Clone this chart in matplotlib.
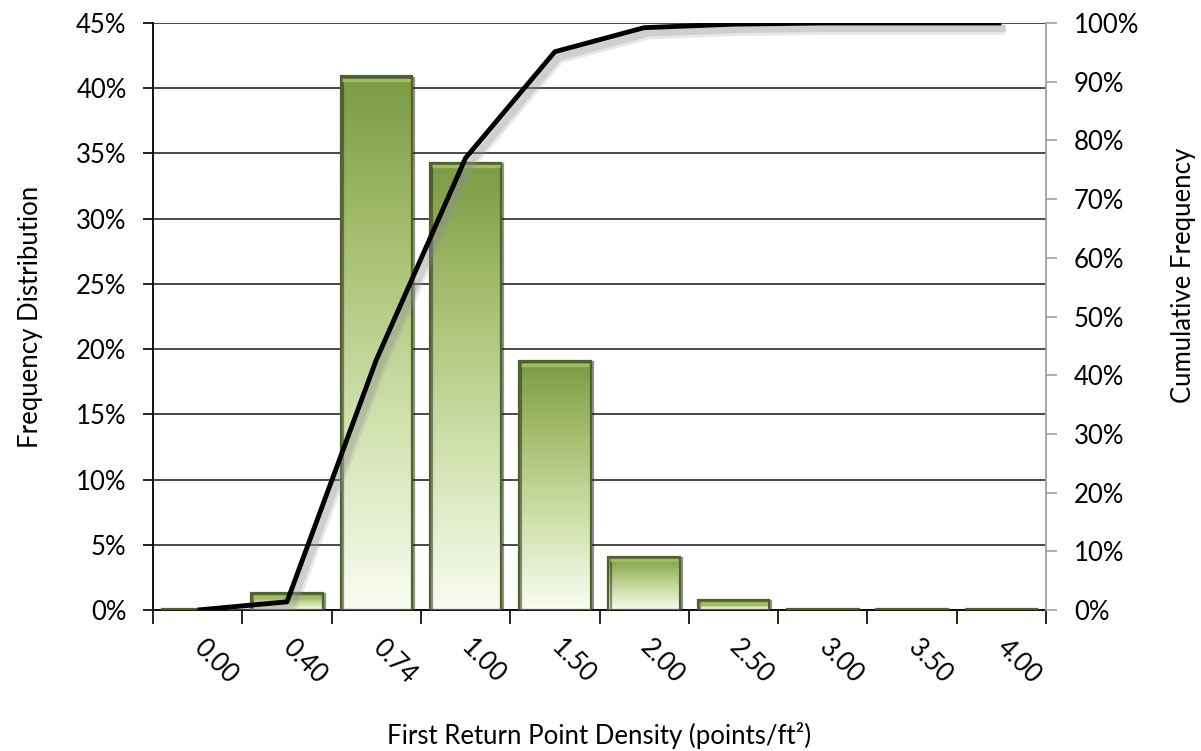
import matplotlib
matplotlib.use("Agg")
import matplotlib.pyplot as plt
import numpy as np
from matplotlib.colors import LinearSegmentedColormap
from matplotlib.ticker import FuncFormatter, FixedLocator
import matplotlib.patheffects as pe

plt.rcParams['font.family'] = ['Lato', 'DejaVu Sans']

categories = ["0.00", "0.40", "0.74", "1.00", "1.50", "2.00", "2.50", "3.00", "3.50", "4.00"]
freq = [0.1, 1.3, 40.9, 34.3, 19.1, 4.1, 0.8, 0.1, 0.1, 0.1]
cumulative = [0.0, 1.4, 42.6, 77.0, 95.1, 99.2, 99.8, 100.0, 100.0, 100.0]

FS = 18.5

fig = plt.figure(figsize=(12.01, 7.51), dpi=100)
ax = fig.add_axes([0.1274, 0.1877, 0.871 - 0.1274, 0.9694 - 0.1877])
x = np.arange(len(categories))

ax.set_xlim(-0.5, len(categories) - 0.5)
ax.set_ylim(0, 45)

# gridlines
ax.set_yticks(np.arange(0, 46, 5))
ax.yaxis.grid(True, color='#3a3a3a', linewidth=1.3)
ax.set_axisbelow(True)

bars = ax.bar(x, freq, width=0.8, facecolor='none', edgecolor='#4f6328',
              linewidth=1.6, zorder=3,
              path_effects=[pe.SimpleLineShadow(offset=(1.5, -1), shadow_color='#222222', alpha=0.5), pe.Normal()])

cmap = LinearSegmentedColormap.from_list('g', ['#f9fcf1', '#d3e3b2', '#a9c274', '#7b9a42'])
grad = np.linspace(0, 1, 256).reshape(-1, 1)
for b in bars:
    x0, y0 = b.get_x(), b.get_y()
    w, h = b.get_width(), b.get_height()
    im = ax.imshow(grad, extent=[x0, x0 + w, y0, y0 + h], origin='lower',
                   cmap=cmap, aspect='auto', zorder=2.5, interpolation='bilinear')
    im.set_clip_path(b)
    # top bevel highlight
    if h > 0.5:
        ax.plot([x0 + 0.02, x0 + w - 0.02], [y0 + h - 0.3, y0 + h - 0.3],
                color='#9fbb63', linewidth=2.5, zorder=3.2, solid_capstyle='butt')

ax.yaxis.set_major_formatter(FuncFormatter(lambda v, p: f"{int(round(v))}%"))
ax.tick_params(axis='y', direction='out', length=7, width=1.2, color='black',
               labelsize=FS, pad=12)

ax.xaxis.set_major_locator(FixedLocator(x))
ax.set_xticklabels(categories, rotation=-45, ha='left', va='center',
                   rotation_mode='anchor', fontsize=FS)
ax.tick_params(axis='x', which='major', length=0, pad=24)
ax.xaxis.set_minor_locator(FixedLocator(np.arange(-0.5, len(categories), 1.0)))
ax.tick_params(axis='x', which='minor', direction='out', length=10, width=1.2, color='black')

for s in ['top', 'right']:
    ax.spines[s].set_visible(False)
ax.spines['left'].set_linewidth(1.3)
ax.spines['bottom'].set_linewidth(1.3)

ax.set_xlabel("First Return Point Density (points/ft²)", fontsize=FS, labelpad=24)
ax.set_ylabel("Frequency Distribution", fontsize=FS, labelpad=24)

ax2 = ax.twinx()
ax2.set_ylim(0, 100)
ax2.set_yticks(np.arange(0, 101, 10))
ax2.yaxis.set_major_formatter(FuncFormatter(lambda v, p: f"{int(round(v))}%"))
ax2.tick_params(axis='y', direction='out', length=8, width=1.2, color='#a0a0a0',
                labelsize=FS, pad=12)
for s in ['top', 'left', 'bottom']:
    ax2.spines[s].set_visible(False)
ax2.spines['right'].set_color('#a0a0a0')
ax2.spines['right'].set_linewidth(1.3)
ax2.plot(x, cumulative, color='black', linewidth=3.5, zorder=5,
         solid_joinstyle='round', solid_capstyle='butt',
         path_effects=[pe.SimpleLineShadow(offset=(3, -4), shadow_color='#999999', alpha=0.22, linewidth=9),
                       pe.SimpleLineShadow(offset=(3, -4), shadow_color='#888888', alpha=0.25, linewidth=5),
                       pe.Normal()])
fig.text(1183 / 1201, 1 - 275 / 751, "Cumulative Frequency", fontsize=FS,
         rotation=90, ha='center', va='center')

fig.savefig("out.png", dpi=100)
